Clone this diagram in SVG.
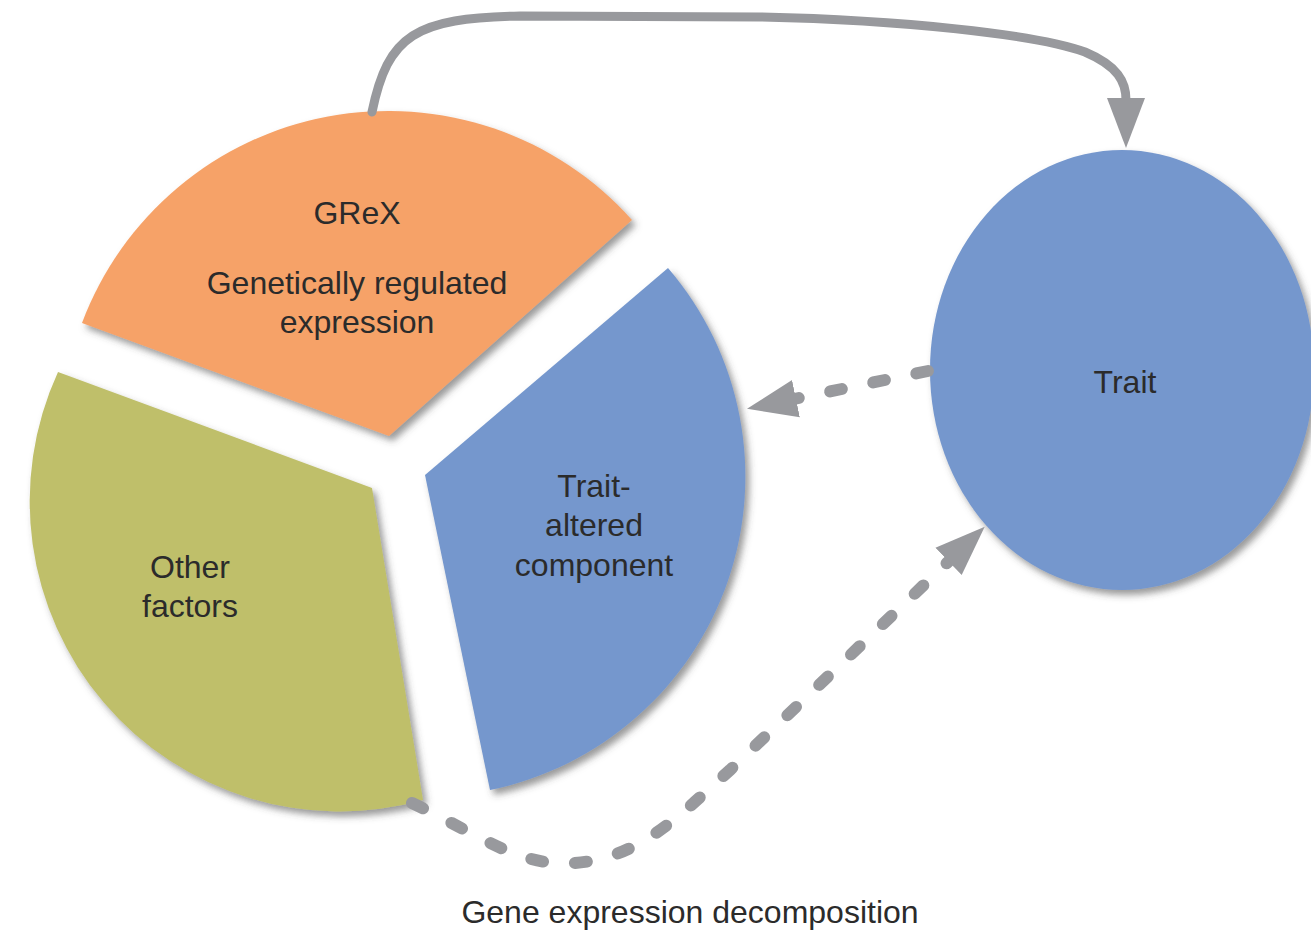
<svg xmlns="http://www.w3.org/2000/svg" width="1311" height="932" viewBox="0 0 1311 932">
  <defs>
    <filter id="shadow" x="-10%" y="-10%" width="125%" height="125%">
      <feDropShadow dx="4" dy="5" stdDeviation="3.5" flood-color="#4a4a4a" flood-opacity="0.55"/>
    </filter>
    <marker id="head" markerUnits="userSpaceOnUse" markerWidth="60" markerHeight="44" refX="2" refY="20" orient="auto" viewBox="0 0 60 44">
      <path d="M0,1 L50,20 L0,39 Z" fill="#98999d"/>
    </marker>
  </defs>
  <style>
    .slice { filter: url(#shadow); }
    .label { font-family: "Liberation Sans", Arial, sans-serif; font-size: 32px; fill: #2b2b2b; text-anchor: middle; }
    .solid { fill: none; stroke: #98999d; stroke-width: 9; stroke-linecap: round; }
    .dashed { fill: none; stroke: #98999d; stroke-width: 12; stroke-linecap: round; stroke-dasharray: 12 32; }
  </style>

  <rect width="1311" height="932" fill="#ffffff"/>

  <!-- pie slices -->
  <g id="grex">
    <path class="slice" d="M389,436 L82,323 A327,327 0 0 1 632,220 Z" fill="#f6a268"/>
    <text class="label" x="357" y="224">GReX</text>
    <text class="label" x="357" y="294">Genetically regulated</text>
    <text class="label" x="357" y="333">expression</text>
  </g>

  <g id="other-factors">
    <path class="slice" d="M372,488 L58,372 A310,310 0 0 0 423,800 Z" fill="#bfbf6a"/>
    <text class="label" x="190" y="578">Other</text>
    <text class="label" x="190" y="617">factors</text>
  </g>

  <g id="trait-altered">
    <path class="slice" d="M425,475 L668,268 A320,320 0 0 1 490,790 Z" fill="#7597cd"/>
    <text class="label" x="594" y="497">Trait-</text>
    <text class="label" x="594" y="536">altered</text>
    <text class="label" x="594" y="576">component</text>
  </g>

  <g id="trait">
    <ellipse class="slice" cx="1122" cy="370" rx="192" ry="220" fill="#7597cd"/>
    <text class="label" x="1125" y="393">Trait</text>
  </g>

  <!-- connectors -->
  <g id="connectors">
    <path class="solid" d="M372,112 C388,35 415,18 520,16 L760,17 C900,20 1035,34 1085,52 C1118,66 1126,82 1126,100" marker-end="url(#head)"/>
    <path class="dashed" d="M928,371 L794,399" marker-end="url(#head)"/>
    <path class="dashed" d="M412,803 C478,834 520,868 575,863 C640,858 680,815 730,770 L950,560" marker-end="url(#head)"/>
  </g>

  <text id="caption" class="label" x="690" y="923">Gene expression decomposition</text>
</svg>
